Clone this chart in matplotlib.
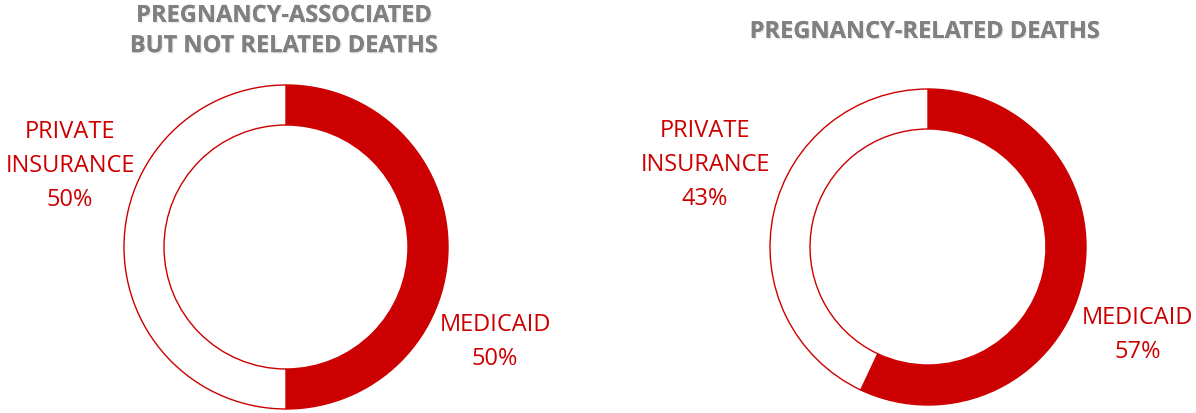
import matplotlib.pyplot as plt
import matplotlib.patheffects as pe

# Data
categories = ["MEDICAID", "PRIVATE\nINSURANCE"]
associated_values = [50, 50]
related_values = [57, 43]
titles = ["PREGNANCY-ASSOCIATED\nBUT NOT RELATED DEATHS", "PREGNANCY-RELATED DEATHS"]

red = "#CC0000"
grey = "#808080"
font = "Open Sans"

fig = plt.figure(figsize=(11.96, 4.13), dpi=100)
ax = fig.add_axes([0, 0, 1, 1])

# (center x, center y, outer radius, ring width) in pixel units
donuts = [
    (associated_values, (286, 166), 162, 40),
    (related_values, (928, 166), 158, 40),
]

for values, center, radius, ring in donuts:
    ax.pie(
        values,
        colors=[red, "white"],
        startangle=90,
        counterclock=False,
        center=center,
        radius=radius,
        wedgeprops=dict(width=ring, edgecolor=red, linewidth=1),
    )
ax.set_xlim(0, 1196)
ax.set_ylim(0, 413)
ax.set_aspect("equal")
ax.axis("off")

shadow = [pe.withSimplePatchShadow(offset=(1, -1), shadow_rgbFace="#cccccc", alpha=0.4), pe.Normal()]

# Titles
ax.text(284, 382, titles[0], ha="center", va="center", fontsize=17, fontweight="bold",
        color=grey, family=font, linespacing=1.35, path_effects=shadow)
ax.text(925, 381, titles[1], ha="center", va="center", fontsize=17, fontweight="bold",
        color=grey, family=font, path_effects=shadow)

# Labels
label_style = dict(ha="center", va="center", fontsize=17, color=red, family=font, linespacing=1.55)
ax.text(70, 247, f"{categories[1]}\n{associated_values[1]}%", **label_style)
ax.text(495, 71, f"{categories[0]}\n{associated_values[0]}%", **label_style)
ax.text(705, 248, f"{categories[1]}\n{related_values[1]}%", **label_style)
ax.text(1138, 78, f"{categories[0]}\n{related_values[0]}%", **label_style)

fig.savefig("out.png", dpi=100)
